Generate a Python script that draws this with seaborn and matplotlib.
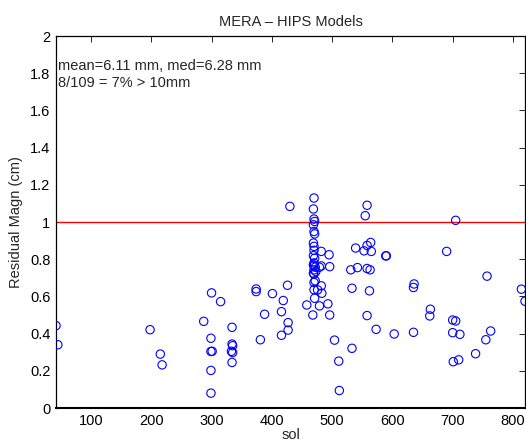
import seaborn as sns
import matplotlib.pyplot as plt
import pandas as pd

# sol number and residual magnitude (cm)
sol_other = [42, 45, 198, 215, 218, 287, 300, 315, 299, 299, 301, 299, 299,
             334, 334, 335, 333, 335, 334, 374, 374, 381, 388, 401, 419, 416,
             416, 426, 427, 427, 430]
res_other = [0.443, 0.340, 0.421, 0.290, 0.232, 0.466, 0.619, 0.572, 0.375, 0.304,
             0.305, 0.202, 0.080, 0.434, 0.344, 0.335, 0.305, 0.298, 0.245, 0.640,
             0.626, 0.367, 0.504, 0.615, 0.578, 0.518, 0.391, 0.660, 0.459, 0.419,
             1.084]

sol_cluster = [470, 469, 470, 471, 469, 470, 471, 469, 470, 470, 469, 471, 470,
               469, 470, 472, 470, 473, 469, 470, 472, 470, 470, 471, 468]
res_cluster = [1.129, 1.070, 1.016, 1.003, 0.985, 0.949, 0.936, 0.887, 0.869, 0.848,
               0.819, 0.805, 0.780, 0.770, 0.764, 0.757, 0.743, 0.734, 0.725, 0.720,
               0.684, 0.675, 0.636, 0.590, 0.500]

sol_near = [458, 476, 479, 479, 482, 482, 482, 483, 495, 496, 493, 496, 504, 511, 512]
res_near = [0.554, 0.635, 0.757, 0.549, 0.842, 0.764, 0.657, 0.617, 0.824, 0.760,
            0.560, 0.500, 0.365, 0.252, 0.094]

sol_late = [531, 533, 533, 539, 542, 553, 555, 558, 558, 564, 565, 558, 563, 562,
            558, 573, 589, 590, 603, 635, 636, 635, 663, 662, 690, 700, 705, 700,
            712, 705, 701, 710, 738, 755, 763, 757, 814, 820]
res_late = [0.743, 0.644, 0.321, 0.860, 0.755, 0.845, 1.034, 1.090, 0.874, 0.890,
            0.842, 0.750, 0.743, 0.630, 0.497, 0.423, 0.818, 0.818, 0.398, 0.407,
            0.667, 0.648, 0.531, 0.495, 0.842, 0.473, 0.468, 0.405, 0.396, 1.009,
            0.249, 0.259, 0.292, 0.367, 0.414, 0.709, 0.639, 0.574]

threshold = 1.0
x_ticks = [100, 200, 300, 400, 500, 600, 700, 800]
y_ticks = [0, 0.2, 0.4, 0.6, 0.8, 1, 1.2, 1.4, 1.6, 1.8, 2]
y_tick_labels = ['0', '0.2', '0.4', '0.6', '0.8', '1', '1.2', '1.4', '1.6', '1.8', '2']
stats_text = 'mean=6.11 mm, med=6.28 mm\n8/109 = 7% > 10mm'

df = pd.DataFrame({
    'sol': sol_other + sol_cluster + sol_near + sol_late,
    'res': res_other + res_cluster + res_near + res_late,
})

sns.set_style('white')
plt.rcParams['font.family'] = ['Liberation Sans', 'DejaVu Sans']

fig = plt.figure(figsize=(5.26, 4.42), dpi=100)
ax = fig.add_axes([0.1065, 0.0769, 0.8916, 0.8416])

sns.scatterplot(data=df, x='sol', y='res', ax=ax, marker='o', s=36,
                facecolor='none', edgecolor='#0000ff', linewidth=0.8, zorder=3)
ax.axhline(threshold, color='#ff0000', linewidth=1.0, zorder=2)

ax.set_xlim(min(df['sol']), max(df['sol']))
ax.set_ylim(0, 2)
ax.set_xticks(x_ticks)
ax.set_yticks(y_ticks)
ax.set_yticklabels(y_tick_labels)

for spine in ax.spines.values():
    spine.set_color('black')
    spine.set_linewidth(0.9)
ax.spines['bottom'].set_linewidth(1.5)
ax.tick_params(direction='in', length=4, width=0.6, top=True, right=True,
               labelsize=10.5, colors='black', pad=4)

ax.set_xlabel('sol', fontsize=10.5, labelpad=0)
ax.set_ylabel('Residual Magn (cm)', fontsize=10.5, labelpad=5)
ax.set_title('MERA \u2013 HIPS Models', fontsize=10.5, pad=7)
ax.text(min(df['sol']) + 4, 1.795, stats_text, fontsize=10.5, va='center', ha='left',
        linespacing=1.25)

fig.savefig('out.png', dpi=100)
